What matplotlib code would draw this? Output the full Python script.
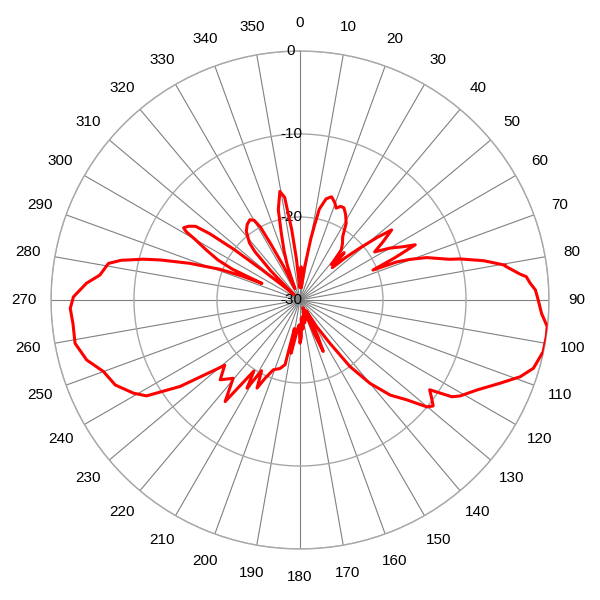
import numpy as np
import matplotlib
matplotlib.use("Agg")
import matplotlib.pyplot as plt
from matplotlib.transforms import offset_copy

plt.rcParams['font.family'] = ['Liberation Sans', 'DejaVu Sans']

# pattern, angle in degrees (clockwise from north) and level in dB
angles = [0, 2, 4, 6, 8, 10, 11, 12, 14.5, 17,
          19.5, 21.5, 23.5, 25.5, 28, 31, 34, 37, 39.5, 41.5,
          43, 45, 47, 49, 51, 52.6, 55, 57.2, 60, 62.7,
          64.4, 66, 67.7, 68.5, 69.7, 71.5, 74.8, 75.6, 77.9, 78.7,
          80.4, 80.6, 83.3, 84.1, 85.8, 87.6, 88.1, 90, 93.2, 96.1,
          98.4, 102, 106.3, 109.2, 112.6, 117, 120.9, 122.5, 124.7, 126.5,
          128.5, 130.1, 133.1, 136.5, 140, 143.1, 145.3, 148, 150, 152,
          154, 155.7, 157, 159, 162, 165, 168, 171, 174, 176,
          178, 180, 182, 185, 187, 189.5, 191, 193, 196.3, 200.9,
          204, 206, 208.5, 211, 213, 216.4, 220.5, 225, 229.1, 230.5,
          234.2, 238, 240.8, 245.3, 250, 254.3, 259.1, 264.1, 267.9, 270.8,
          274.5, 277.1, 280.8, 282.5, 284.6, 286, 288.4, 291, 292.5, 293.5,
          294.5, 296, 298, 300, 301, 301.8, 303.5, 305.2, 306.3, 307.5,
          308.5, 310, 312, 313, 315, 317, 318.5, 320, 322, 325,
          328, 330, 331.5, 332.5, 334, 336, 338, 340, 342, 344.5,
          346.5, 349.5, 351.5, 353.3, 355, 357, 358.5]
levels = [-27, -26, -27.5, -28.5, -26, -22.5, -20.8, -18.8, -17.4, -17.0,
          -17.5, -18.1, -17.7, -17.7, -18.3, -19.2, -20.8, -21.5, -22.2, -24.3,
          -22.2, -24.5, -22.5, -20.5, -18.0, -16.1, -17.8, -19.3, -17.5, -16.0,
          -14.6, -17.5, -20.5, -17.5, -15.9, -13.9, -11.3, -10.1, -7.4, -6.65,
          -4.9, -4.95, -3.3, -2.6, -2.2, -1.6, -1.55, -1.3, -0.85, -0.05,
          0, -0.05, -0.7, -1.9, -3.9, -6.1, -7.5, -8.3, -11.0, -10.3,
          -9.5, -10.0, -12.4, -14.2, -16.9, -20.0, -23.6, -26.2, -28.5, -27,
          -25, -23.2, -25.5, -29, -27.5, -28.5, -27.2, -28, -26.5, -27.8,
          -25.5, -24.8, -27, -26.5, -25.5, -23.5, -26.5, -22.0, -21.4, -21.0,
          -19.7, -18.2, -20.3, -17.6, -19.8, -14.8, -17.6, -16.4, -18.0, -16.8,
          -12.2, -8.2, -7.0, -5.5, -4.8, -3.3, -2.4, -2.5, -2.3, -2.7,
          -4.2, -5.7, -6.5, -7.9, -10.5, -12.5, -16.0, -19.7, -22.5, -25.0,
          -21.0, -19.0, -17.3, -15.4, -14.0, -13.5, -13.9, -14.6, -16.5, -20.0,
          -24.2, -27.5, -29, -28, -25, -22, -20.8, -20.3, -19.5, -18.9,
          -18.6, -18.9, -20.0, -22.5, -25.5, -28.5, -27.5, -25.5, -23.8, -21.5,
          -18.8, -16.7, -17.5, -21.5, -25, -28, -28.5]

r_ticks = [-30, -20, -10, 0]
r_labels = ['-30', '-20', '-10', '0']
theta_ticks = list(range(0, 360, 10))
theta_labels = [str(a) for a in theta_ticks]

fig = plt.figure(figsize=(6, 6), dpi=100)
ax = fig.add_axes([0.085, 0.085, 0.83, 0.83], projection='polar')
ax.set_theta_zero_location('N')
ax.set_theta_direction(-1)
ax.set_ylim(-30, 0)

ax.set_xticks(np.deg2rad(theta_ticks))
ax.set_xticklabels([])
ax.set_yticks(r_ticks)
ax.set_yticklabels([])
ax.xaxis.grid(True, color='#808080', linewidth=0.8)
ax.yaxis.grid(True, color='#a8a8a8', linewidth=1.0)
ax.spines['polar'].set_color('#a8a8a8')
ax.spines['polar'].set_linewidth(1.0)
ax.tick_params(length=0)

th = np.deg2rad(angles + [angles[0] + 360])
lv = levels + [levels[0]]
ax.plot(th, lv, color='#ff0000', linewidth=2.2, zorder=5,
        solid_joinstyle='round', solid_capstyle='round')

# angle labels outside the circle
for a, lab in zip(theta_ticks, theta_labels):
    t = np.deg2rad(a)
    ax.text(0.5 + 0.555 * np.sin(t), 0.5 + 0.557 * np.cos(t), lab,
            transform=ax.transAxes, ha='center', va='center', fontsize=11)

# level labels along 0 deg
tr = offset_copy(ax.transData, fig=fig, x=-9, y=0, units='dots')
for r, lab in zip(r_ticks, r_labels):
    ax.text(0, r, lab, transform=tr, ha='center', va='center', fontsize=11,
            zorder=4)

fig.savefig('out.png', dpi=100)
